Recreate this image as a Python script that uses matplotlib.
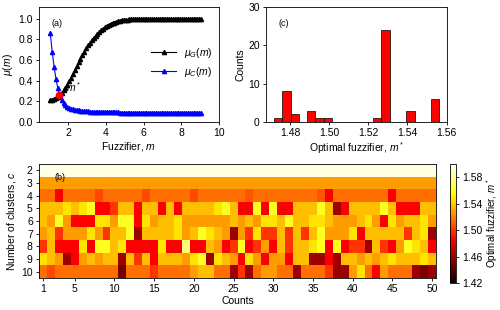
import matplotlib
matplotlib.use("Agg")
import matplotlib.pyplot as plt
import numpy as np

plt.rcParams['font.family'] = ['Liberation Sans', 'DejaVu Sans']
plt.rcParams['font.size'] = 7.5
plt.rcParams['mathtext.fontset'] = 'custom'
plt.rcParams['mathtext.it'] = 'Liberation Sans:italic'
plt.rcParams['mathtext.rm'] = 'Liberation Sans'

#panel (a): membership curves vs fuzzifier
m = np.round(np.arange(1.05, 9.1, 0.1), 2)
mu_G = [0.212, 0.216, 0.222, 0.231, 0.245, 0.263, 0.283, 0.306, 0.332, 0.362,
        0.395, 0.43, 0.466, 0.503, 0.54, 0.576, 0.612, 0.647, 0.68, 0.711,
        0.74, 0.767, 0.792, 0.815, 0.836, 0.855, 0.872, 0.888, 0.902, 0.915,
        0.927, 0.937, 0.946, 0.954, 0.961, 0.967, 0.972, 0.977, 0.981, 0.984,
        0.987, 0.989, 0.991, 0.992, 0.993, 0.994, 0.995, 0.996, 0.996, 0.997,
        0.997, 0.997, 0.997, 0.998, 0.998, 0.998, 0.998, 0.998, 0.998, 0.998,
        0.998, 0.999, 0.999, 0.999, 0.999, 0.999, 0.999, 0.999, 0.999, 0.999,
        0.999, 0.999, 0.999, 0.999, 0.999, 0.999, 0.999, 0.999, 0.999, 0.999, 0.999]
mu_C = [0.856, 0.68, 0.535, 0.42, 0.325, 0.255, 0.21, 0.182, 0.163, 0.149,
        0.139, 0.131, 0.125, 0.12, 0.116, 0.113, 0.11, 0.108, 0.106, 0.104,
        0.103, 0.102, 0.101, 0.1, 0.099, 0.098, 0.098, 0.097, 0.097, 0.096,
        0.096, 0.095, 0.095, 0.095, 0.094, 0.094, 0.094, 0.093, 0.093, 0.093,
        0.093, 0.092, 0.092, 0.092, 0.092, 0.091, 0.091, 0.091, 0.091, 0.091,
        0.09, 0.09, 0.09, 0.09, 0.09, 0.09, 0.09, 0.089, 0.089, 0.089,
        0.089, 0.089, 0.089, 0.089, 0.089, 0.088, 0.088, 0.088, 0.088, 0.088,
        0.088, 0.088, 0.088, 0.088, 0.088, 0.088, 0.087, 0.087, 0.087, 0.087, 0.087]
m_opt = 1.5
mu_opt = 0.26

#panel (c): histogram of optimal fuzzifier
hist_lo = 1.4718
hist_hi = 1.5563
hist_counts = [1, 8, 2, 0, 3, 1, 1, 0, 0, 0, 0, 0, 1, 24, 0, 0, 3, 0, 0, 6]

#panel (b): optimal fuzzifier for each run (columns) and number of clusters (rows)
clusters = [2, 3, 4, 5, 6, 7, 8, 9, 10]
row_c2 = [1.595] * 50
row_c3 = [1.528] * 50
row_c4 = [1.515, 1.515, 1.485, 1.515, 1.515, 1.515, 1.515, 1.505, 1.515, 1.515,
          1.515, 1.515, 1.515, 1.505, 1.515, 1.515, 1.515, 1.515, 1.515, 1.505,
          1.515, 1.515, 1.515, 1.515, 1.515, 1.515, 1.508, 1.515, 1.515, 1.515,
          1.515, 1.515, 1.515, 1.515, 1.515, 1.508, 1.485, 1.515, 1.515, 1.515,
          1.515, 1.515, 1.515, 1.515, 1.485, 1.515, 1.515, 1.515, 1.515, 1.515]
row_c5 = [1.537, 1.537, 1.537, 1.547, 1.537, 1.547, 1.56, 1.485, 1.485, 1.50,
          1.537, 1.537, 1.485, 1.537, 1.537, 1.485, 1.537, 1.485, 1.537, 1.537,
          1.537, 1.537, 1.547, 1.56, 1.537, 1.485, 1.485, 1.56, 1.485, 1.56,
          1.485, 1.485, 1.537, 1.537, 1.537, 1.56, 1.537, 1.46, 1.485, 1.537,
          1.537, 1.537, 1.537, 1.56, 1.537, 1.485, 1.485, 1.485, 1.537, 1.537]
row_c6 = [1.537, 1.528, 1.56, 1.528, 1.485, 1.485, 1.485, 1.547, 1.547, 1.528,
          1.56, 1.56, 1.485, 1.547, 1.528, 1.537, 1.537, 1.547, 1.528, 1.528,
          1.528, 1.528, 1.528, 1.528, 1.537, 1.528, 1.537, 1.528, 1.547, 1.547,
          1.537, 1.56, 1.537, 1.537, 1.547, 1.547, 1.537, 1.528, 1.528, 1.528,
          1.537, 1.547, 1.528, 1.485, 1.547, 1.528, 1.537, 1.537, 1.547, 1.528]
row_c7 = [1.528, 1.537, 1.50, 1.528, 1.528, 1.528, 1.547, 1.528, 1.50, 1.537,
          1.537, 1.56, 1.46, 1.537, 1.537, 1.537, 1.537, 1.547, 1.528, 1.537,
          1.56, 1.547, 1.537, 1.528, 1.46, 1.528, 1.50, 1.547, 1.50, 1.50,
          1.537, 1.50, 1.537, 1.50, 1.537, 1.56, 1.528, 1.528, 1.528, 1.547,
          1.485, 1.537, 1.537, 1.537, 1.537, 1.537, 1.50, 1.537, 1.547, 1.46]
row_c8 = [1.50, 1.537, 1.485, 1.485, 1.485, 1.547, 1.485, 1.56, 1.56, 1.537,
          1.547, 1.485, 1.485, 1.485, 1.485, 1.547, 1.485, 1.485, 1.575, 1.485,
          1.485, 1.537, 1.528, 1.485, 1.50, 1.56, 1.485, 1.50, 1.528, 1.485,
          1.537, 1.50, 1.537, 1.537, 1.547, 1.56, 1.485, 1.56, 1.485, 1.50,
          1.50, 1.46, 1.537, 1.50, 1.485, 1.528, 1.56, 1.547, 1.537, 1.485]
row_c9 = [1.547, 1.537, 1.528, 1.46, 1.485, 1.528, 1.537, 1.528, 1.537, 1.537,
          1.46, 1.537, 1.50, 1.537, 1.485, 1.537, 1.537, 1.537, 1.528, 1.547,
          1.56, 1.46, 1.547, 1.537, 1.528, 1.485, 1.547, 1.528, 1.485, 1.528,
          1.528, 1.485, 1.537, 1.537, 1.46, 1.46, 1.485, 1.46, 1.537, 1.537,
          1.528, 1.537, 1.528, 1.537, 1.547, 1.537, 1.537, 1.537, 1.547, 1.537]
row_c10 = [1.515, 1.505, 1.515, 1.515, 1.515, 1.515, 1.515, 1.515, 1.515, 1.515,
           1.45, 1.515, 1.515, 1.515, 1.50, 1.515, 1.515, 1.515, 1.515, 1.528,
           1.537, 1.537, 1.515, 1.515, 1.46, 1.50, 1.46, 1.515, 1.528, 1.528,
           1.515, 1.515, 1.46, 1.515, 1.515, 1.515, 1.50, 1.46, 1.46, 1.528,
           1.547, 1.515, 1.485, 1.528, 1.515, 1.515, 1.515, 1.46, 1.45, 1.46]
m_grid = np.array([row_c2, row_c3, row_c4, row_c5, row_c6, row_c7, row_c8, row_c9, row_c10])

fig = plt.figure(figsize=(5, 3.1), dpi=100)

#(a)
axA = fig.add_axes([0.078, 0.606, 0.36, 0.371])
axA.plot(m, mu_G, color='black', marker='^', markersize=3, linewidth=0.8, label=r'$\mu_G(m)$')
axA.plot(m, mu_C, color='blue', marker='^', markersize=3, linewidth=0.8, label=r'$\mu_C(m)$')
axA.plot(m_opt, mu_opt, 'o', color='red', markersize=4.5, zorder=5)
axA.text(m_opt + 0.4, mu_opt + 0.03, r'$m^*$')
axA.set_xlim(0.45, 10)
axA.set_ylim(0, 1.11)
axA.set_xticks([2, 4, 6, 8, 10])
axA.set_yticks([0, 0.2, 0.4, 0.6, 0.8, 1.0])
axA.set_xlabel(r'Fuzzifier, $m$', labelpad=1)
axA.set_ylabel(r'$\mu(m)$', labelpad=2)
axA.text(0.07, 0.84, '(a)', transform=axA.transAxes, fontsize=6.5)
axA.legend(loc='center right', frameon=False, handlelength=2.4, bbox_to_anchor=(1.02, 0.52))

#(c)
axC = fig.add_axes([0.532, 0.606, 0.362, 0.371])
edges = np.linspace(hist_lo, hist_hi, len(hist_counts) + 1)
axC.bar(edges[:-1], hist_counts, width=np.diff(edges), align='edge',
        color='red', edgecolor='black', linewidth=0.5)
axC.set_xlim(1.4677, 1.5602)
axC.set_ylim(0, 30)
axC.set_xticks([1.48, 1.50, 1.52, 1.54, 1.56])
axC.set_yticks([0, 10, 20, 30])
axC.set_xlabel(r'Optimal fuzzifier, $m^*$', labelpad=1)
axC.set_ylabel('Counts', labelpad=2)
axC.text(0.07, 0.84, '(c)', transform=axC.transAxes, fontsize=6.5)

#(b)
axB = fig.add_axes([0.078, 0.103, 0.794, 0.368])
mesh = axB.pcolormesh(np.arange(0.5, 51, 1), np.arange(1.5, 11, 1), m_grid,
                      cmap='hot', vmin=1.42, vmax=1.60)
axB.set_xlim(0.5, 50.5)
axB.set_ylim(10.5, 1.5)
axB.set_xticks([1, 5, 10, 15, 20, 25, 30, 35, 40, 45, 50])
axB.set_yticks(clusters)
axB.set_xlabel('Counts', labelpad=1)
axB.set_ylabel(r'Number of clusters, $c$', labelpad=2)
axB.text(0.038, 0.86, '(b)', transform=axB.transAxes, fontsize=6.5)

cax = fig.add_axes([0.9, 0.087, 0.012, 0.384])
cb = fig.colorbar(mesh, cax=cax, ticks=[1.42, 1.46, 1.50, 1.54, 1.58])
cb.set_label(r'Optimal fuzzifier, $m^*$', labelpad=1, fontsize=7)
cb.outline.set_linewidth(0.6)

for ax in (axA, axB, axC):
    ax.tick_params(direction='out', length=2.5, width=0.6, pad=2)
    for s in ax.spines.values():
        s.set_linewidth(0.6)
cax.tick_params(direction='out', length=2.5, width=0.6, pad=2)

fig.savefig('out.png', dpi=100)
